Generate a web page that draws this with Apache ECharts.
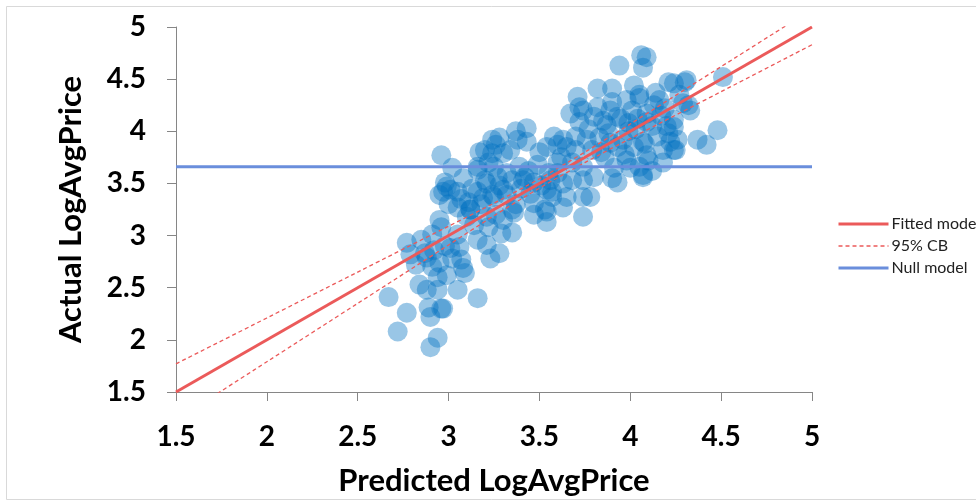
<!DOCTYPE html>
<html>
<head>
<meta charset="utf-8">
<script src="https://cdn.jsdelivr.net/npm/echarts@6/dist/echarts.min.js"></script>
<style>
  html, body { margin: 0; padding: 0; background: #fff; }
  #chart { width: 976px; height: 501px; }
</style>
</head>
<body>
<div id="chart"></div>
<script>
// observed points: [predicted, actual]
const observed = [
  [2.67,2.41],[2.72,2.08],[2.77,2.26],[2.77,2.93],[2.79,2.82],[2.82,2.72],[2.84,2.53],[2.87,2.83],
  [2.88,2.48],[2.88,2.79],[2.89,2.31],[2.90,2.22],[2.90,1.93],[2.91,2.70],[2.91,3.01],[2.94,2.02],
  [2.94,2.48],[2.94,2.60],[2.95,2.74],[2.96,2.30],[2.97,2.30],[2.96,3.08],[2.99,2.62],[3.01,2.88],
  [3.05,2.48],[3.05,3.01],[3.06,2.89],[3.07,2.77],[3.08,2.69],[3.09,2.64],[3.10,3.18],[3.16,2.40],
  [3.16,2.96],[3.21,2.91],[3.22,3.08],[3.23,2.78],[3.28,2.83],[3.29,3.02],[3.35,3.03],[2.85,2.96],
  [2.98,2.90],[3.02,2.78],[2.92,2.86],[3.12,3.25],
  [2.95,3.15],[2.95,3.39],[2.98,3.51],[2.99,3.47],[2.97,3.42],[3.01,3.44],[3.02,3.65],[3.05,3.42],
  [3.05,3.27],[3.11,3.32],[3.12,3.25],[2.96,3.77],[3.16,3.63],[3.17,3.80],[3.20,3.82],[3.24,3.92],
  [3.26,3.87],[3.24,3.79],[3.30,3.79],[3.28,3.94],[3.38,3.92],[3.43,4.03],[3.43,3.90],[3.37,4.00],
  [3.20,3.53],[3.21,3.50],[3.24,3.39],[3.25,3.37],[3.19,3.36],[3.16,3.42],[3.21,3.18],[3.28,3.48],
  [3.30,3.44],[3.27,3.56],[3.25,3.66],[3.16,3.66],[3.39,3.66],[3.41,3.53],[3.42,3.56],[3.35,3.53],
  [3.35,3.25],[3.36,3.22],[3.32,3.39],[3.47,3.31],[3.47,3.20],[3.53,3.25],[3.54,3.23],[3.54,3.13],
  [3.47,3.51],[3.51,3.48],[3.54,3.44],[3.57,3.37],[3.60,3.60],[3.55,3.60],[3.49,3.68],[3.13,3.45],
  [3.08,3.55],[3.22,3.70],[3.32,3.60],[3.40,3.45],[3.45,3.40],[3.18,3.30],[3.07,3.35],[3.00,3.30],
  [3.26,3.20],[3.14,3.10],[3.30,3.15],[3.37,3.30],[3.44,3.62],[3.50,3.80],[3.34,3.82],
  [3.54,3.85],[3.60,3.87],[3.63,3.92],[3.65,3.85],[3.70,3.82],[3.76,3.92],[3.79,3.82],[3.83,3.94],
  [3.89,3.89],[3.93,3.85],[3.96,3.92],[4.07,3.90],[4.08,3.88],[4.09,3.77],[4.18,3.82],[4.24,3.82],
  [4.26,3.92],[4.05,3.66],[4.07,3.58],[4.07,3.56],[3.93,3.51],[3.91,3.65],[4.00,3.65],[4.18,3.70],
  [3.74,3.66],[3.74,3.53],[3.80,3.56],[3.68,3.53],[3.63,3.50],[3.56,3.53],[3.57,3.42],[3.65,3.37],
  [3.63,3.27],[3.74,3.37],[3.78,3.37],[3.74,3.18],[3.67,4.17],[3.72,4.23],[3.72,4.09],[3.80,4.14],
  [3.93,4.14],[3.87,4.06],[3.99,4.08],[4.09,4.09],[4.24,4.11],[4.24,4.04],[4.21,3.98],[4.48,4.01],
  [4.37,3.92],[4.42,3.87],[3.74,4.20],[3.82,4.23],[3.89,4.20],[4.01,4.20],[4.09,4.17],[4.19,4.22],
  [4.29,4.27],[4.33,4.20],[3.90,4.28],[3.71,4.33],[3.82,4.41],[3.90,4.41],[4.05,4.35],[4.05,4.32],
  [4.14,4.37],[4.02,4.44],[4.21,4.47],[4.24,4.46],[4.31,4.49],[4.30,4.47],[4.51,4.52],[3.94,4.63],
  [4.06,4.73],[4.09,4.71],[4.07,4.61],[4.32,4.25],[4.25,3.82],[3.99,4.00],[4.03,4.02],[4.12,4.05],
  [4.15,3.95],[4.02,3.85],[3.97,3.78],[3.86,3.75],[3.84,3.80],[3.68,3.70],[3.62,3.75],[3.95,4.12],
  [4.13,4.25],[4.17,4.15],[4.20,4.05],[4.10,3.72],[4.22,3.90],[3.88,3.98],[3.77,4.02],[3.70,3.95],
  [4.27,4.35],[4.16,4.30],[4.04,4.12],[3.98,4.30],[3.85,4.10],[4.12,3.62],[3.98,3.72],[3.90,3.55],
  [3.60,3.70],[3.58,3.95]
];

// fitted model and confidence band
const fittedLine = [[1.5, 1.5], [5, 5]];
const cbX     = [1.5, 2, 2.5, 3, 3.25, 3.5, 3.75, 4, 4.5, 5];
const cbUpper = [1.77, 2.21, 2.65, 3.09, 3.31, 3.545, 3.80, 4.07, 4.62, 5.17];
const cbLower = [1.23, 1.79, 2.35, 2.91, 3.19, 3.455, 3.70, 3.93, 4.38, 4.83];
const nullModel = 3.66;
const axisTicks = [1.5, 2, 2.5, 3, 3.5, 4, 4.5, 5];

const font = 'Lato, "Open Sans", sans-serif';
const red = '#EB5A5A';
const blue = '#6A8EDC';

const chart = echarts.init(document.getElementById('chart'), null, { renderer: 'canvas' });

const axisCommon = {
  type: 'value',
  min: 1.5,
  max: 5,
  interval: 0.5,
  nameLocation: 'middle',
  nameTextStyle: { fontFamily: font, fontWeight: 'bold', fontSize: 31, color: '#000' },
  axisLine: { show: true, lineStyle: { color: '#868686', width: 1 } },
  axisTick: { show: true, inside: false, length: 9, lineStyle: { color: '#868686' } },
  splitLine: { show: false },
  axisLabel: {
    fontFamily: font, fontWeight: 'bold', fontSize: 28, color: '#000',
    formatter: v => String(+v.toFixed(1))
  }
};

chart.setOption({
  animation: false,
  backgroundColor: '#fff',
  graphic: [{
    type: 'rect',
    shape: { x: 6.5, y: 6.5, width: 1000, height: 493 },
    style: { fill: 'none', stroke: '#d9d9d9', lineWidth: 1 },
    silent: true,
    z: -1
  }],
  grid: { left: 176, right: 164, top: 27, bottom: 109, containLabel: false },
  legend: {
    left: 832,
    top: 211,
    orient: 'vertical',
    itemWidth: 50,
    itemHeight: 12,
    itemGap: 6,
    itemStyle: { opacity: 0 },
    lineStyle: { width: 'inherit' },
    textStyle: { fontFamily: font, fontSize: 16, color: '#222', padding: [0, 0, 0, -2] },
    data: ['Fitted model', '95% CB', 'Null model']
  },
  xAxis: Object.assign({}, axisCommon, {
    name: 'Predicted LogAvgPrice',
    nameGap: 73,
    axisLabel: Object.assign({}, axisCommon.axisLabel, { margin: 31 })
  }),
  yAxis: Object.assign({}, axisCommon, {
    name: 'Actual LogAvgPrice',
    nameGap: 90,
    axisLabel: Object.assign({}, axisCommon.axisLabel, { margin: 30 })
  }),
  series: [
    {
      name: 'Observed',
      type: 'scatter',
      data: observed,
      symbolSize: 20,
      itemStyle: { color: 'rgba(0,112,192,0.5)' },
      z: 2
    },
    {
      name: 'Fitted model',
      type: 'line',
      data: fittedLine,
      symbol: 'none',
      lineStyle: { color: red, width: 3 },
      itemStyle: { color: red },
      z: 3
    },
    {
      name: '95% CB',
      type: 'line',
      data: cbX.map((x, i) => [x, cbUpper[i]]),
      symbol: 'none',
      smooth: 0.3,
      lineStyle: { color: red, width: 1.3, type: [4, 3] },
      itemStyle: { color: red },
      z: 3
    },
    {
      name: '95% CB',
      type: 'line',
      data: cbX.map((x, i) => [x, cbLower[i]]),
      symbol: 'none',
      smooth: 0.3,
      lineStyle: { color: red, width: 1.3, type: [4, 3] },
      itemStyle: { color: red },
      z: 3
    },
    {
      name: 'Null model',
      type: 'line',
      data: [[axisTicks[0], nullModel], [axisTicks[axisTicks.length - 1], nullModel]],
      symbol: 'none',
      lineStyle: { color: blue, width: 3 },
      itemStyle: { color: blue },
      z: 3
    }
  ]
});
</script>
</body>
</html>
